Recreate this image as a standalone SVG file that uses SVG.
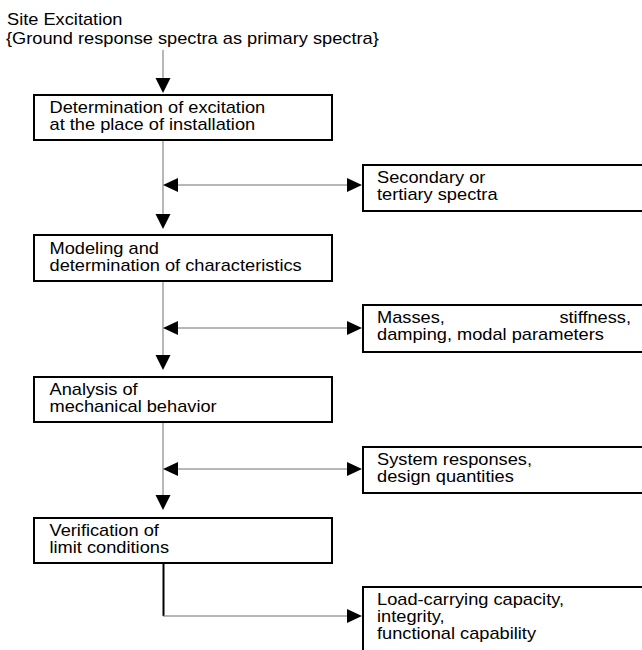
<svg xmlns="http://www.w3.org/2000/svg" width="642" height="650" viewBox="0 0 642 650">
<style>
.t{font-family:"Liberation Sans",Arial,sans-serif;font-size:16px;fill:#000}
.box{fill:#fff;stroke:#000;stroke-width:2}
.ln{fill:none;stroke:#707070;stroke-width:1}
.ah{fill:#000;stroke:none}
</style>
<rect width="642" height="650" fill="#fff"/>
<g id="header">
<text class="t" transform="translate(7,25) scale(1.14,1)">Site Excitation</text>
<text class="t" transform="translate(6,44) scale(1.14,1)">{Ground response spectra as primary spectra}</text>
</g>
<g id="connectors">
<line class="ln" x1="163" y1="50" x2="163" y2="80"/>
<polygon class="ah" points="155.5,78 170.5,78 163,93"/>
<line class="ln" x1="163" y1="140" x2="163" y2="215"/>
<polygon class="ah" points="155.5,214 170.5,214 163,229"/>
<line class="ln" x1="170" y1="185" x2="355" y2="185"/>
<polygon class="ah" points="163,185 178,178 178,192"/>
<polygon class="ah" points="362,185 347,178 347,192"/>
<line class="ln" x1="163" y1="281" x2="163" y2="357"/>
<polygon class="ah" points="155.5,355 170.5,355 163,370"/>
<line class="ln" x1="170" y1="328" x2="355" y2="328"/>
<polygon class="ah" points="163,328 178,321 178,335"/>
<polygon class="ah" points="362,328 347,321 347,335"/>
<line class="ln" x1="163" y1="422" x2="163" y2="497"/>
<polygon class="ah" points="155.5,495 170.5,495 163,510"/>
<line class="ln" x1="170" y1="469" x2="355" y2="469"/>
<polygon class="ah" points="163,469 178,462 178,476"/>
<polygon class="ah" points="362,469 347,462 347,476"/>
<line x1="163.5" y1="563" x2="163.5" y2="616" stroke="#000" stroke-width="2"/>
<line class="ln" x1="163" y1="616" x2="355" y2="616"/>
<polygon class="ah" points="362,616 347,609 347,623"/>
</g>
<g id="n1">
<rect class="box" x="34" y="95" width="298" height="45"/>
<text class="t" transform="translate(49.5,113) scale(1.14,1)">Determination of excitation</text>
<text class="t" transform="translate(49.5,130) scale(1.14,1)">at the place of installation</text>
</g>
<g id="n2">
<rect class="box" x="363" y="165" width="290" height="46"/>
<text class="t" transform="translate(377,183) scale(1.14,1)">Secondary or</text>
<text class="t" transform="translate(377,200) scale(1.14,1)">tertiary spectra</text>
</g>
<g id="n3">
<rect class="box" x="34" y="235" width="298" height="46"/>
<text class="t" transform="translate(49.5,254) scale(1.14,1)">Modeling and</text>
<text class="t" transform="translate(49.5,271) scale(1.14,1)">determination of characteristics</text>
</g>
<g id="n4">
<rect class="box" x="363" y="305" width="290" height="47"/>
<text class="t" transform="translate(377,323) scale(1.14,1)">Masses,</text>
<text class="t" text-anchor="end" transform="translate(631,323) scale(1.14,1)">stiffness,</text>
<text class="t" transform="translate(377,340) scale(1.14,1)">damping, modal parameters</text>
</g>
<g id="n5">
<rect class="box" x="34" y="377" width="298" height="45"/>
<text class="t" transform="translate(49.5,395) scale(1.14,1)">Analysis of</text>
<text class="t" transform="translate(49.5,412) scale(1.14,1)">mechanical behavior</text>
</g>
<g id="n6">
<rect class="box" x="363" y="447" width="290" height="46"/>
<text class="t" transform="translate(377,465) scale(1.14,1)">System responses,</text>
<text class="t" transform="translate(377,482) scale(1.14,1)">design quantities</text>
</g>
<g id="n7">
<rect class="box" x="34" y="518" width="298" height="45"/>
<text class="t" transform="translate(49.5,536) scale(1.14,1)">Verification of</text>
<text class="t" transform="translate(49.5,553) scale(1.14,1)">limit conditions</text>
</g>
<g id="n8">
<rect class="box" x="363" y="587" width="290" height="80"/>
<text class="t" transform="translate(377,605) scale(1.14,1)">Load-carrying capacity,</text>
<text class="t" transform="translate(377,622) scale(1.14,1)">integrity,</text>
<text class="t" transform="translate(377,639) scale(1.14,1)">functional capability</text>
</g>
</svg>
